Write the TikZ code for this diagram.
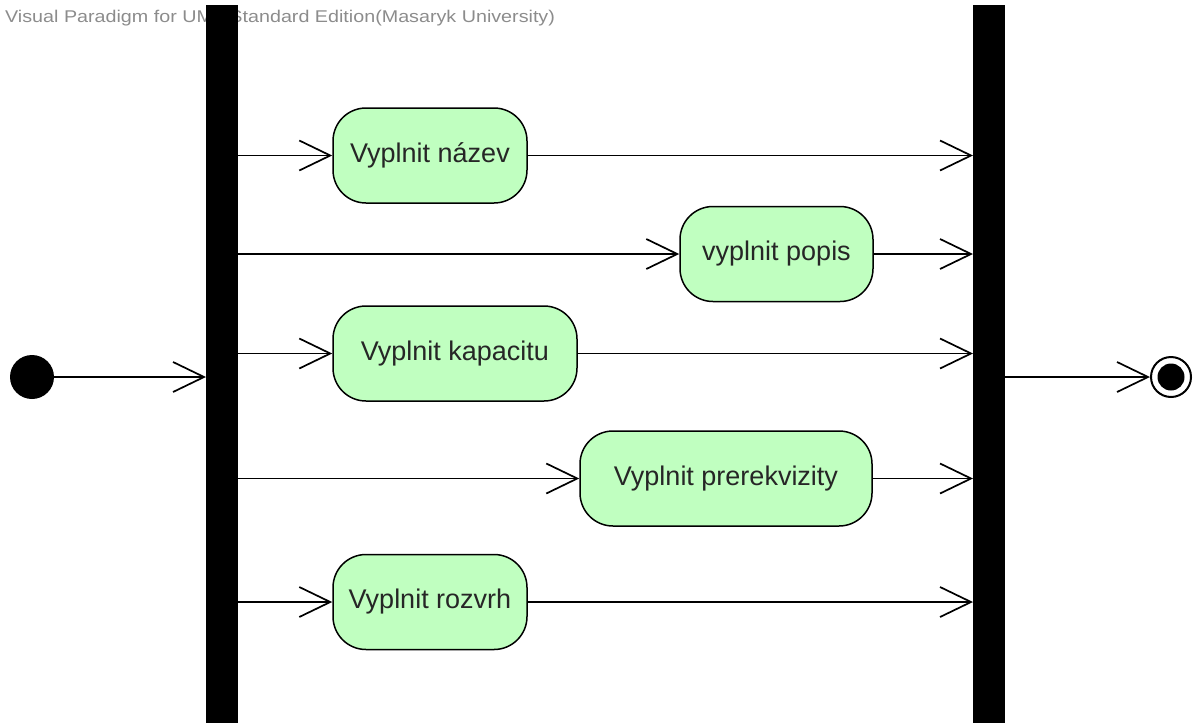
\documentclass[tikz,border=0pt]{standalone}
\usepackage{fontspec}
\usepackage{graphicx}
\setmainfont{Liberation Sans}
\usetikzlibrary{arrows.meta}
\definecolor{actfill}{HTML}{C0FFC0}
\definecolor{wmgray}{HTML}{8C8C8C}
\begin{document}
\begin{tikzpicture}[x=1pt,y=-1pt,
  action/.style={draw=black, line width=1.5pt, fill=actfill, rounded corners=33pt,
    minimum height=95pt, inner sep=0pt, font=\fontsize{27}{30}\selectfont, text=black!85},
  syncbar/.style={fill=black, draw=none, inner sep=0pt, minimum width=32pt, minimum height=718pt},
  flow/.style={line width=1.7pt, -{Straight Barb[length=31pt,width=30pt,line width=1.7pt]}},
]
\useasboundingbox (0,0) rectangle (1198,723);
\node[text=wmgray, anchor=west, inner sep=0pt, font=\fontsize{17}{20}\selectfont] (wm) at (5,18)
  {\scalebox{1.16}[1]{Visual Paradigm for UML Standard Edition(Masaryk University)}};
\node[syncbar, anchor=north west] (fork) at (206,5) {};
\node[syncbar, anchor=north west] (join) at (973,5) {};
\node[action, minimum width=194pt] (n1) at (430,155.5) {Vyplnit název};
\node[action, minimum width=193pt] (n2) at (776.5,254) {vyplnit popis};
\node[action, minimum width=244pt] (n3) at (455,353.5) {Vyplnit kapacitu};
\node[action, minimum width=292pt] (n4) at (726,478.5) {Vyplnit prerekvizity};
\node[action, minimum width=194pt] (n5) at (430,602) {Vyplnit rozvrh};
\node[circle, fill=black, draw=none, minimum size=44pt, inner sep=0pt] (init) at (32,377) {};
\node[circle, draw=black, line width=2pt, fill=white, minimum size=40pt, inner sep=0pt] (final) at (1171,377) {};
\node[circle, fill=black, draw=none, minimum size=27pt, inner sep=0pt] (finaldot) at (final.center) {};
\draw[flow] (init) -- (fork.west |- init);
\foreach \n in {n1,n2,n3,n4,n5}{
  \draw[flow] (fork.east |- \n.west) -- (\n.west);
  \draw[flow] (\n.east) -- (join.west |- \n.east);
}
\draw[flow] (join.east |- final) -- (final.west);
\end{tikzpicture}
\end{document}
